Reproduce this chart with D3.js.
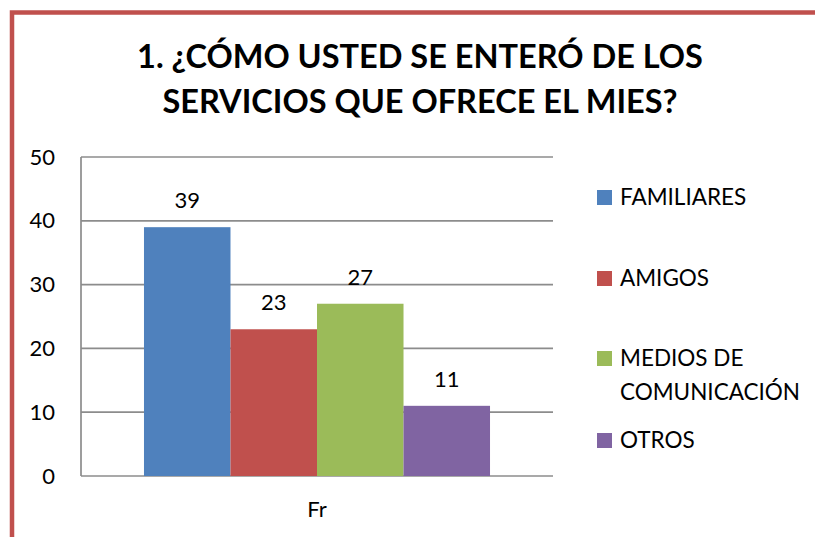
<!DOCTYPE html>
<html>
<head>
<meta charset="utf-8">
<script src="https://cdn.jsdelivr.net/npm/d3@7"></script>
<style>
  body { margin: 0; background: #fff; }
  text { font-family: Lato, "Open Sans", sans-serif; }
</style>
</head>
<body>
<div class="chart"></div>
<script>
(function() {
var width = 815, height = 537;

var categories = ["Fr"];
var series = ["FAMILIARES", "AMIGOS", "MEDIOS DE COMUNICACIÓN", "OTROS"];
var legendLines = [["FAMILIARES"], ["AMIGOS"], ["MEDIOS DE", "COMUNICACIÓN"], ["OTROS"]];
var values = [39, 23, 27, 11];
var colors = ["#4F81BD", "#C0504D", "#9BBB59", "#8064A2"];
var yTicks = [0, 10, 20, 30, 40, 50];
var titleLines = ["1. ¿CÓMO USTED SE ENTERÓ DE LOS", "SERVICIOS QUE OFRECE EL MIES?"];

var plot = {left: 81, right: 553, top: 157, bottom: 476};

var svg = d3.select(".chart").append("svg")
  .attr("width", width).attr("height", height);

// chart border (only top and left are in view)
svg.append("rect")
  .attr("x", 12).attr("y", 12.5)
  .attr("width", 900).attr("height", 700)
  .style("fill", "none")
  .style("stroke", "#C0504D")
  .style("stroke-width", 4.5);

// title
svg.selectAll(".title").data(titleLines)
  .enter().append("text")
  .attr("class", "title")
  .attr("x", 420)
  .attr("y", function(d, i) { return 68 + i * 45 })
  .attr("text-anchor", "middle")
  .style("font-size", "32.5px")
  .style("font-weight", "bold")
  .style("fill", "#000")
  .text(function(d) { return d });

var y = d3.scaleLinear().domain([0, 50]).range([plot.bottom, plot.top]);
var x0 = d3.scaleBand().domain(categories).range([plot.left, plot.right])
  .paddingInner(0).paddingOuter(0.182);
var x1 = d3.scaleBand().domain(series).range([0, x0.bandwidth()]);

// gridlines
svg.selectAll(".grid").data(yTicks)
  .enter().append("line")
  .attr("x1", plot.left).attr("x2", plot.right)
  .attr("y1", function(d) { return y(d) }).attr("y2", function(d) { return y(d) })
  .style("stroke", "#8c8c8c")
  .style("stroke-width", 1.7);

// left axis line
svg.append("line")
  .attr("x1", plot.left).attr("x2", plot.left)
  .attr("y1", plot.top).attr("y2", plot.bottom)
  .style("stroke", "#8c8c8c")
  .style("stroke-width", 1.7);

// y tick labels
var yAxis = d3.axisLeft(y).tickValues(yTicks).tickSize(0).tickPadding(26);
var ya = svg.append("g").attr("transform", "translate(" + plot.left + ",0)").call(yAxis);
ya.select(".domain").remove();
ya.selectAll("text").style("font-size", "22px").style("font-family", "Lato, sans-serif").style("fill", "#000");

// x axis label
var xAxis = d3.axisBottom(x0).tickSize(0).tickPadding(25);
var xa = svg.append("g").attr("transform", "translate(0," + plot.bottom + ")").call(xAxis);
xa.select(".domain").remove();
xa.selectAll("text").style("font-size", "22px").style("font-family", "Lato, sans-serif").style("fill", "#000");

// bars
var g = svg.append("g").attr("transform", "translate(" + x0("Fr") + ",0)");
g.selectAll("rect").data(values)
  .enter().append("rect")
  .attr("x", function(d, i) { return x1(series[i]) })
  .attr("y", function(d) { return y(d) })
  .attr("width", x1.bandwidth())
  .attr("height", function(d) { return y(0) - y(d) })
  .style("fill", function(d, i) { return colors[i] });

g.selectAll(".lbl").data(values)
  .enter().append("text")
  .attr("class", "lbl")
  .attr("x", function(d, i) { return x1(series[i]) + x1.bandwidth() / 2 })
  .attr("y", function(d) { return y(d) - 19 })
  .attr("text-anchor", "middle")
  .style("font-size", "22px")
  .style("fill", "#000")
  .text(function(d) { return d });

// legend
var legendY = [197, 278, 358, 440];
var lg = svg.selectAll(".legend").data(series)
  .enter().append("g")
  .attr("class", "legend")
  .attr("transform", function(d, i) { return "translate(597," + legendY[i] + ")" });
lg.append("rect")
  .attr("x", 0).attr("y", -7)
  .attr("width", 15).attr("height", 15)
  .style("fill", function(d, i) { return colors[i] });
lg.selectAll("text").data(function(d, i) { return legendLines[i] })
  .enter().append("text")
  .attr("x", 23)
  .attr("y", function(d, i) { return 8 + i * 34 })
  .style("font-size", "22.5px")
  .style("fill", "#000")
  .text(function(d) { return d });
})()
</script>
</body>
</html>
